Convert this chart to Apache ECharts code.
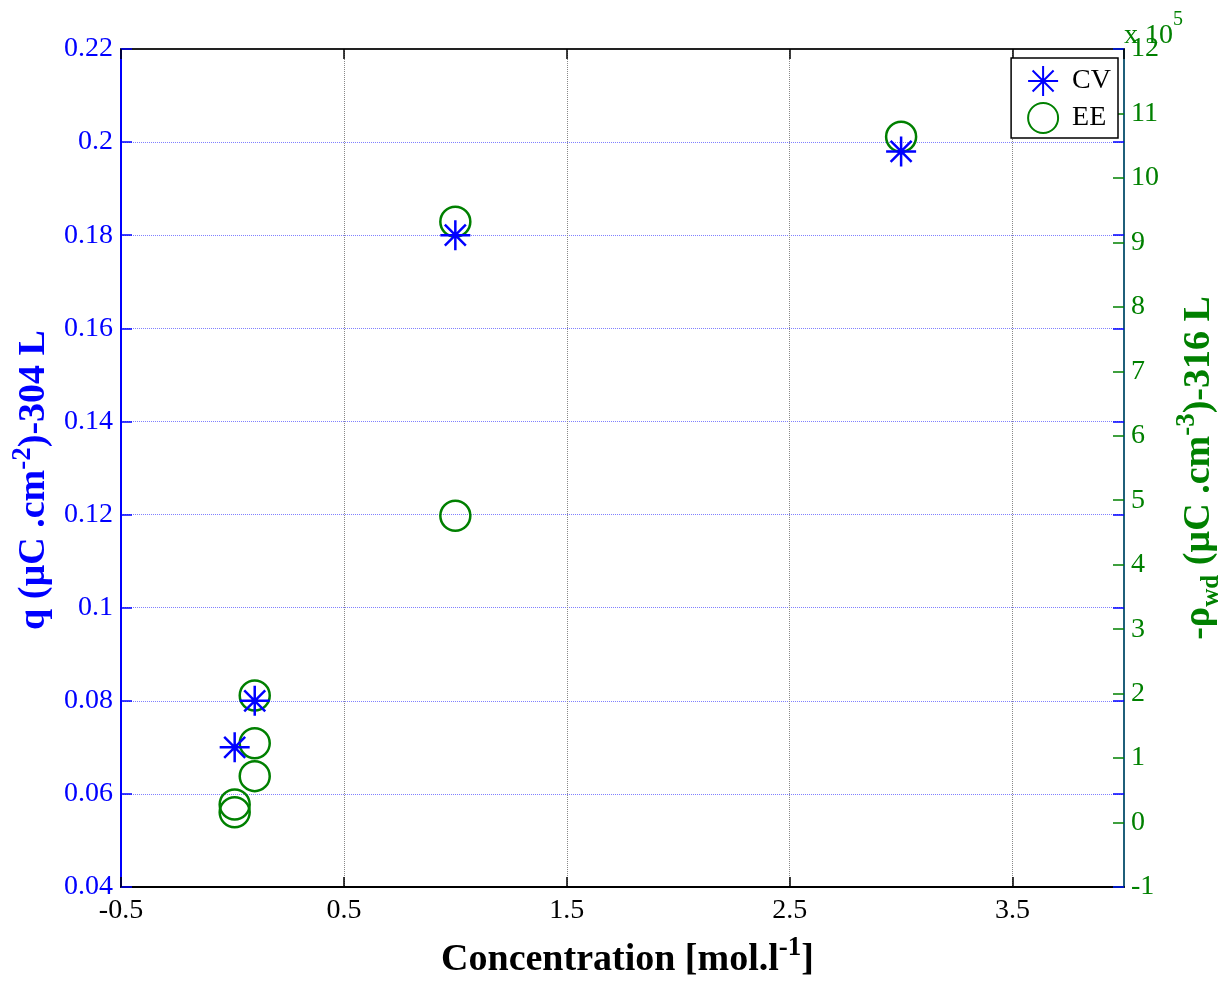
<!DOCTYPE html>
<html>
<head>
<meta charset="utf-8">
<script src="https://cdn.jsdelivr.net/npm/echarts@6/dist/echarts.min.js"></script>
<style>
html,body{margin:0;padding:0;background:#fff;}
#chart{width:1224px;height:982px;}
</style>
</head>
<body>
<div id="chart"></div>
<script>
// Data
const cvX = [0.01, 0.1, 1.0, 3.0];
const cvY = [0.07, 0.08, 0.18, 0.198];           // q (µC.cm^-2), left axis
const eeX = [0.01, 0.01, 0.1, 0.1, 0.1, 1.0, 1.0, 3.0];
const eeY = [0.16, 0.28, 0.72, 1.23, 1.97, 4.76, 9.32, 10.64]; // -rho_wd, right axis (x10^5)
const seriesNames = ['CV', 'EE'];

const FONT = 'Liberation Serif';
const BLUE = '#0000ff';
const GREEN = '#008000';
const ASTERISK = 'path://M0,-10L0,10M-10,0L10,0M-7,-7L7,7M-7,7L7,-7';

const chart = echarts.init(document.getElementById('chart'), null, {renderer: 'canvas'});

const boldRich = (color) => ({
  b: {fontFamily: FONT, fontWeight: 'bold', fontSize: 38, color: color, lineHeight: 50},
  sup: {fontFamily: FONT, fontWeight: 'bold', fontSize: 27, color: color, lineHeight: 26, verticalAlign: 'top'},
  sub: {fontFamily: FONT, fontWeight: 'bold', fontSize: 25, color: color, lineHeight: 26, verticalAlign: 'bottom'}
});

const option = {
  animation: false,
  backgroundColor: '#ffffff',
  grid: {left: 121, right: 100, top: 49, bottom: 95, containLabel: false, outerBoundsMode: 'none'},
  legend: {
    data: seriesNames,
    orient: 'vertical',
    right: 106,
    top: 58,
    itemWidth: 30,
    itemHeight: 30,
    itemGap: 5,
    padding: [7, 7, 4, 16],
    borderColor: '#000',
    borderWidth: 1.5,
    backgroundColor: '#fff',
    textStyle: {fontFamily: FONT, fontSize: 28, color: '#000', padding: [0, 0, 0, 9]}
  },
  xAxis: [
    {
      type: 'value', min: -0.5, max: 4, interval: 1, position: 'bottom',
      name: '{b|Concentration [mol.l}{sup|-1}{b|]}',
      nameLocation: 'middle', nameGap: 48,
      nameTextStyle: {rich: boldRich('#000'), padding: [0, 0, 0, 10]},
      axisLine: {show: true, onZero: false, lineStyle: {color: '#000', width: 2}},
      axisTick: {show: true, inside: true, length: 10, lineStyle: {color: '#000', width: 1.5}},
      axisLabel: {fontFamily: FONT, fontSize: 28, color: '#000', margin: 10, showMaxLabel: false},
      splitLine: {show: true, lineStyle: {color: '#888', type: 'dotted', width: 1}}
    },
    {
      type: 'value', min: -0.5, max: 4, interval: 1, position: 'top',
      axisLine: {show: true, onZero: false, lineStyle: {color: '#222', width: 2}},
      axisTick: {show: true, inside: true, length: 10, lineStyle: {color: '#000', width: 1.5}},
      axisLabel: {show: false},
      splitLine: {show: false}
    }
  ],
  yAxis: [
    {
      type: 'value', min: 0.04, max: 0.22, interval: 0.02, position: 'left',
      name: '{b|q (µC .cm}{sup|-2}{b|)-304 L}',
      nameLocation: 'middle', nameRotate: 90, nameGap: 54,
      nameTextStyle: {rich: boldRich(BLUE), padding: [0, 24, 0, 0]},
      axisLine: {show: true, onZero: false, lineStyle: {color: BLUE, width: 2}},
      axisTick: {show: true, inside: true, length: 11, lineStyle: {color: BLUE, width: 1.5}},
      axisLabel: {fontFamily: FONT, fontSize: 28, color: BLUE, margin: 8},
      splitLine: {show: true, lineStyle: {color: '#8080ff', type: 'dotted', width: 1}}
    },
    {
      type: 'value', min: -1, max: 12, interval: 1, position: 'right',
      name: '{b|-ρ}{sub|wd}{b| (µC .cm}{sup|-3}{b|)-316 L}',
      nameLocation: 'middle', nameRotate: 90, nameGap: 50,
      nameTextStyle: {rich: boldRich(GREEN)},
      axisLine: {show: true, onZero: false, lineStyle: {color: '#1f5f7a', width: 2}},
      axisTick: {show: true, inside: true, length: 11, lineStyle: {color: GREEN, width: 1.5}},
      axisLabel: {fontFamily: FONT, fontSize: 28, color: GREEN, margin: 7},
      splitLine: {show: false}
    },
    {
      type: 'value', min: 0.04, max: 0.22, interval: 0.02, position: 'right',
      axisLine: {show: false, onZero: false},
      axisTick: {show: true, inside: true, length: 11, lineStyle: {color: BLUE, width: 1.5}},
      axisLabel: {show: false},
      splitLine: {show: false}
    }
  ],
  graphic: [
    {
      type: 'text', left: 1124, top: 10, z: 100,
      style: {
        text: '{a|x 10}{s|5}',
        rich: {
          a: {fontFamily: FONT, fontSize: 28, fill: GREEN, lineHeight: 40, verticalAlign: 'bottom'},
          s: {fontFamily: FONT, fontSize: 20, fill: GREEN, lineHeight: 22, verticalAlign: 'top'}
        }
      }
    }
  ],
  series: [
    {
      name: seriesNames[0], type: 'scatter', xAxisIndex: 0, yAxisIndex: 0,
      symbol: ASTERISK, symbolSize: 30,
      itemStyle: {color: BLUE, borderColor: BLUE, borderWidth: 2.5, opacity: 1},
      data: cvX.map((x, i) => [x, cvY[i]]),
      z: 3
    },
    {
      name: seriesNames[1], type: 'scatter', xAxisIndex: 0, yAxisIndex: 1,
      symbol: 'circle', symbolSize: 30,
      itemStyle: {color: 'rgba(0,0,0,0)', borderColor: GREEN, borderWidth: 2.5, opacity: 1},
      data: eeX.map((x, i) => [x, eeY[i]]),
      z: 2
    }
  ]
};
chart.setOption(option);
</script>
</body>
</html>
